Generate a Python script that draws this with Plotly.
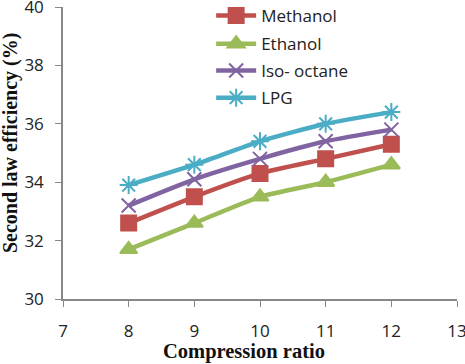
import plotly.graph_objects as go

cr = [8, 9, 10, 11, 12]
methanol = [32.6, 33.5, 34.3, 34.8, 35.3]
ethanol = [31.7, 32.6, 33.5, 34.0, 34.6]
isooctane = [33.2, 34.1, 34.8, 35.4, 35.8]
lpg = [33.9, 34.6, 35.4, 36.0, 36.4]

series = [
    ("Methanol", methanol, "#C0504D", "square", 15),
    ("Ethanol", ethanol, "#9BBB59", "triangle-up", 15),
    ("Iso- octane", isooctane, "#8064A2", "x-thin-open", 14),
    ("LPG", lpg, "#4BACC6", "asterisk-open", 15),
]
legend_ids = ["legend", "legend2", "legend3", "legend4"]
legend_y = [0.969, 0.873, 0.781, 0.688]

fig = go.Figure()
for (name, vals, col, sym, sz), lid in zip(series, legend_ids):
    fig.add_trace(go.Scatter(
        x=cr, y=vals, name=name, mode="lines+markers", legend=lid,
        line=dict(color=col, width=4.5, shape="spline", smoothing=0.6),
        marker=dict(symbol=sym, size=sz, color=col, line=dict(color=col, width=2)),
    ))

axis_font = dict(family="Open Sans, Liberation Sans, sans-serif", size=17, color="#222")
leg_font = dict(family="Open Sans, Liberation Sans, sans-serif", size=17, color="#222")

legends = {}
for lid, ly in zip(legend_ids, legend_y):
    legends[lid] = dict(x=0.376, y=ly, xanchor="left", yanchor="middle",
                        font=leg_font, bgcolor="rgba(0,0,0,0)", itemwidth=40)

fig.update_layout(
    width=465, height=364,
    margin=dict(l=63, r=8, t=7, b=65, autoexpand=False),
    paper_bgcolor="white", plot_bgcolor="white",
    showlegend=True,
    **legends,
    xaxis=dict(range=[7, 13], dtick=1, tick0=7, showgrid=False, zeroline=False,
               showline=True, linecolor="#888", linewidth=1.5,
               ticks="outside", ticklen=6, tickcolor="#888",
               tickfont=axis_font, ticklabeloverflow="allow", ticklabelstandoff=10),
    yaxis=dict(range=[30, 40], dtick=2, showgrid=False, zeroline=False,
               showline=True, linecolor="#888", linewidth=1.5,
               ticks="outside", ticklen=6, tickcolor="#888",
               tickfont=axis_font, ticklabeloverflow="allow", ticklabelstandoff=8),
    annotations=[
        dict(text="<b>Compression ratio</b>", xref="paper", yref="paper",
             x=0.46, y=-0.181, xanchor="center", yanchor="middle", showarrow=False,
             font=dict(family="Liberation Serif, Times New Roman, serif", size=20.5, color="#111")),
        dict(text="<b>Second law efficiency (%)</b>", xref="paper", yref="paper",
             x=-0.1345, y=0.534, xanchor="center", yanchor="middle", showarrow=False,
             textangle=-90,
             font=dict(family="Liberation Serif, Times New Roman, serif", size=20, color="#111")),
    ],
)

fig.write_html("out.html")
